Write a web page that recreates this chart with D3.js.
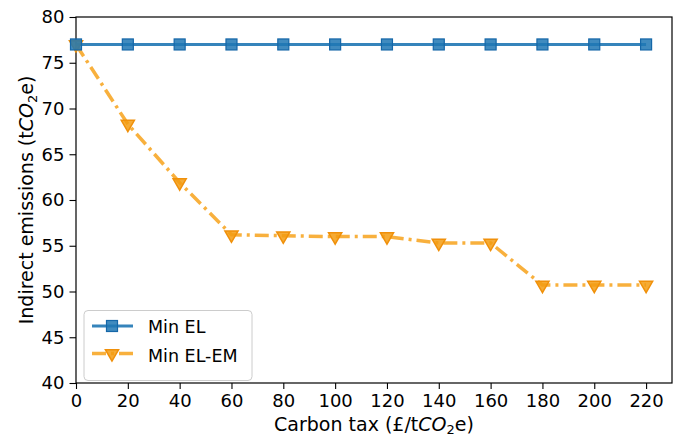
<!DOCTYPE html>
<html>
<head>
<meta charset="utf-8">
<script src="https://cdn.jsdelivr.net/npm/d3@7"></script>
<style>
  body { margin: 0; background: #fff; }
  svg { font-family: "DejaVu Sans", sans-serif; }
</style>
</head>
<body>
<svg id="chart" width="678" height="439"></svg>
<script>
const carbonTax = [0, 20, 40, 60, 80, 100, 120, 140, 160, 180, 200, 220];
const minEL = [77, 77, 77, 77, 77, 77, 77, 77, 77, 77, 77, 77];
const minELEM = [77, 68.3, 61.9, 56.2, 56.1, 56.0, 56.0, 55.3, 55.3, 50.7, 50.7, 50.7];
const xTicks = [0, 20, 40, 60, 80, 100, 120, 140, 160, 180, 200, 220];
const yTicks = [40, 45, 50, 55, 60, 65, 70, 75, 80];
const seriesNames = ["Min EL", "Min EL-EM"];

const svg = d3.select("#chart");
const m = { left: 76, right: 6, top: 17, bottom: 56 };
const W = 678, H = 439;
const x = d3.scaleLinear().domain([0, 230]).range([m.left, W - m.right]);
const y = d3.scaleLinear().domain([40, 80]).range([H - m.bottom, m.top]);

// axes
const xAxis = svg.append("g").attr("transform", `translate(0,${H - m.bottom})`)
  .call(d3.axisBottom(x).tickValues(xTicks).tickSize(6).tickPadding(5));
const yAxis = svg.append("g").attr("transform", `translate(${m.left},0)`)
  .call(d3.axisLeft(y).tickValues(yTicks).tickSize(6.5).tickPadding(5));
[xAxis, yAxis].forEach(a => {
  a.selectAll("text").attr("font-size", 18).attr("fill", "#000").attr("font-family", "DejaVu Sans");
  a.selectAll("line").attr("stroke", "#000").attr("stroke-width", 1.1);
  a.select(".domain").remove();
});
// frame
svg.append("rect").attr("x", m.left).attr("y", m.top)
  .attr("width", W - m.right - m.left).attr("height", H - m.bottom - m.top)
  .attr("fill", "none").attr("stroke", "#000").attr("stroke-width", 1.2);

// series
const line = d3.line().x((d, i) => x(carbonTax[i])).y(d => y(d));
const blue = "#1f77b4";

svg.append("path").datum(minELEM).attr("d", line)
  .attr("fill", "none").attr("stroke", "#f7a21b").attr("stroke-opacity", 0.85)
  .attr("stroke-width", 3.5).attr("stroke-dasharray", "14,5,3,5");
svg.append("path").datum(minEL).attr("d", line)
  .attr("fill", "none").attr("stroke", blue).attr("stroke-width", 3).attr("stroke-opacity", 0.9);

const tri = d3.symbol().type(d3.symbolTriangle).size(75);
svg.append("g").selectAll("path").data(minELEM).join("path")
  .attr("d", tri)
  .attr("transform", (d, i) => `translate(${x(carbonTax[i])},${y(d)}) rotate(180)`)
  .attr("fill", "#f39c12").attr("fill-opacity", 0.85)
  .attr("stroke", "#f0900a").attr("stroke-width", 1.5);

svg.append("g").selectAll("rect").data(minEL).join("rect")
  .attr("x", (d, i) => x(carbonTax[i]) - 5.5).attr("y", d => y(d) - 5.5)
  .attr("width", 11).attr("height", 11)
  .attr("fill", blue).attr("fill-opacity", 0.85)
  .attr("stroke", "#1567a8").attr("stroke-width", 1.2);

// axis labels
svg.append("text").attr("x", (m.left + W - m.right) / 2).attr("y", 431)
  .attr("text-anchor", "middle").attr("font-size", 19)
  .html('Carbon tax (£/t<tspan font-style="italic">CO</tspan><tspan font-size="13" dy="3">2</tspan><tspan dy="-3">e)</tspan>');
svg.append("text")
  .attr("transform", `translate(33,${(m.top + H - m.bottom) / 2}) rotate(-90)`)
  .attr("text-anchor", "middle").attr("font-size", 19)
  .html('Indirect emissions (t<tspan font-style="italic">CO</tspan><tspan font-size="13" dy="4">2</tspan><tspan dy="-4">e)</tspan>');

// legend
const lg = svg.append("g").attr("transform", "translate(84,310.5)");
lg.append("rect").attr("width", 168).attr("height", 70).attr("rx", 4)
  .attr("fill", "#fff").attr("fill-opacity", 0.8).attr("stroke", "#ccc").attr("stroke-width", 1);
lg.append("line").attr("x1", 8).attr("x2", 49).attr("y1", 15.5).attr("y2", 15.5)
  .attr("stroke", blue).attr("stroke-width", 3).attr("stroke-opacity", 0.9);
lg.append("rect").attr("x", 22.5).attr("y", 10).attr("width", 11).attr("height", 11)
  .attr("fill", blue).attr("fill-opacity", 0.85).attr("stroke", "#1567a8").attr("stroke-width", 1.2);
lg.append("line").attr("x1", 8).attr("x2", 49).attr("y1", 43).attr("y2", 43)
  .attr("stroke", "#f7a21b").attr("stroke-opacity", 0.85).attr("stroke-width", 3.5)
  .attr("stroke-dasharray", "14,5,3,5");
lg.append("path").attr("d", tri).attr("transform", "translate(28,43) rotate(180)")
  .attr("fill", "#f39c12").attr("fill-opacity", 0.85).attr("stroke", "#f0900a").attr("stroke-width", 1.5);
lg.selectAll("text.lbl").data(seriesNames).join("text").attr("class", "lbl")
  .attr("x", 64).attr("y", (d, i) => 22.5 + i * 29).attr("font-size", 17.5).text(d => d);
</script>
</body>
</html>
